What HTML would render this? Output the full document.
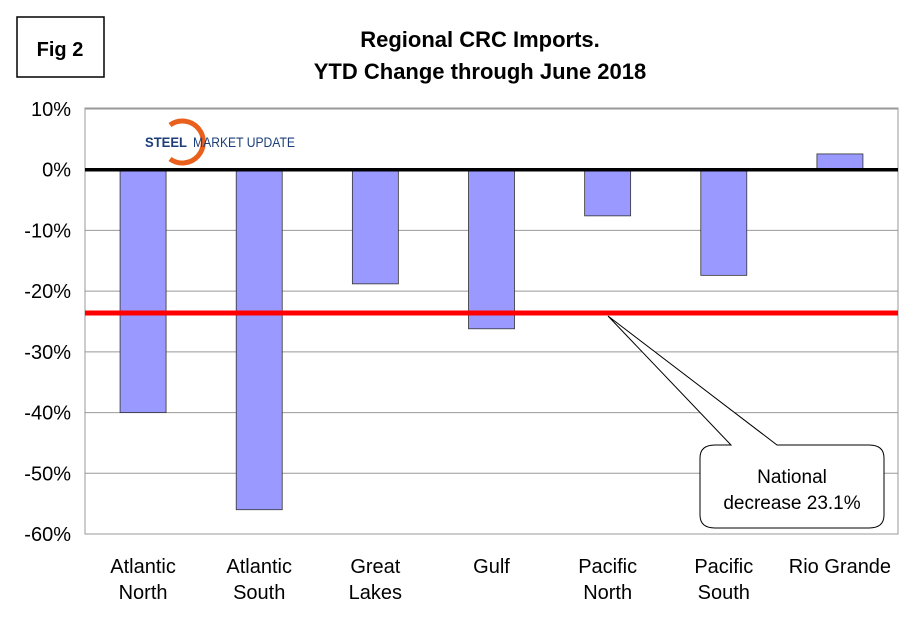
<!DOCTYPE html>
<html><head><meta charset="utf-8"><style>
body{margin:0;background:#fff;font-family:"Liberation Sans",Arial,sans-serif}
svg text{font-family:"Liberation Sans",Arial,sans-serif}
</style></head><body>
<svg id="c" width="910" height="622" xmlns="http://www.w3.org/2000/svg">
<rect x="17" y="17" width="87" height="60" fill="#fff" stroke="#000" stroke-width="1.5"/>
<text x="60" y="56" text-anchor="middle" font-size="20" font-weight="bold">Fig 2</text>
<text x="480" y="47" text-anchor="middle" font-size="22" font-weight="bold">Regional CRC Imports.</text>
<text x="480" y="79" text-anchor="middle" font-size="22" font-weight="bold">YTD Change through June 2018</text>
<g id="grid"></g>
<g id="bars"></g>
<g>
<path d="M170 125 A21 21 0 1 1 170 159" fill="none" stroke="#e8601c" stroke-width="5"/>
<text x="145" y="147" font-size="14" font-weight="bold" fill="#1c3f7a" textLength="42" lengthAdjust="spacingAndGlyphs">STEEL</text>
<text x="193" y="147" font-size="14" fill="#1c3f7a" textLength="102" lengthAdjust="spacingAndGlyphs">MARKET UPDATE</text>
</g>
<g id="ref"></g>
<g>
<path d="M608 316 L731 445 L715 445 Q700 445 700 458 L700 515 Q700 528 715 528 L869 528 Q884 528 884 515 L884 458 Q884 445 869 445 L777 445 Z" fill="#fff" stroke="#000" stroke-width="1"/>
<text x="792" y="483" text-anchor="middle" font-size="19">National</text>
<text x="792" y="509" text-anchor="middle" font-size="19">decrease 23.1%</text>
</g>
</svg>
<script>
const categories=["Atlantic North","Atlantic South","Great Lakes","Gulf","Pacific North","Pacific South","Rio Grande"];
const values=[-40,-56,-18.8,-26.2,-7.6,-17.4,2.6];
const yTicks=[10,0,-10,-20,-30,-40,-50,-60];
const nationalAvg=[-23.6];
const L=85,R=898,T=109,B=534,ymax=10,ymin=-60;
const y=v=>T+(ymax-v)/(ymax-ymin)*(B-T);
const bw=(R-L)/categories.length;
const x=i=>L+bw*(i+0.5);
const ns="http://www.w3.org/2000/svg";
function mk(t,a,p){const e=document.createElementNS(ns,t);for(const k in a)e.setAttribute(k,a[k]);p.appendChild(e);return e;}
const g=document.getElementById('grid');
mk('rect',{x:L,y:T-1,width:R-L,height:B-T+1,fill:'none',stroke:'#999'},g);
yTicks.forEach(t=>{
 if(t!==0){const ln=mk('line',{x1:L,x2:R,y1:y(t),y2:y(t),stroke:'#999'},g);
 
 }
 const tx=mk('text',{x:L-14,y:y(t)+7,'text-anchor':'end','font-size':20},g);
 tx.textContent=t+'%';
 
 
});
const bg=document.getElementById('bars');
values.forEach((v,i)=>{
 const r=mk('rect',{x:x(i)-23,y:Math.min(y(v),y(0)),width:46,height:Math.abs(y(v)-y(0)),fill:'#9999ff',stroke:'#333','stroke-width':0.8},bg);
 
 
 const parts=categories[i].split(' ');
 const t=mk('text',{x:x(i),y:573,'text-anchor':'middle','font-size':20},bg);
 
 
 if(categories[i]==="Rio Grande"){t.textContent=categories[i];}
 else parts.forEach((p,j)=>{const s=mk('tspan',{x:x(i),dy:j?26:0},t);s.textContent=p;});
});
const zl=mk('line',{x1:L,x2:R,y1:y(0),y2:y(0),stroke:'#000','stroke-width':3.5},bg);


const rl=mk('line',{x1:L,x2:R,y1:y(nationalAvg[0]),y2:y(nationalAvg[0]),stroke:'#ff0000','stroke-width':5},document.getElementById('ref'));


</script>
</body></html>
